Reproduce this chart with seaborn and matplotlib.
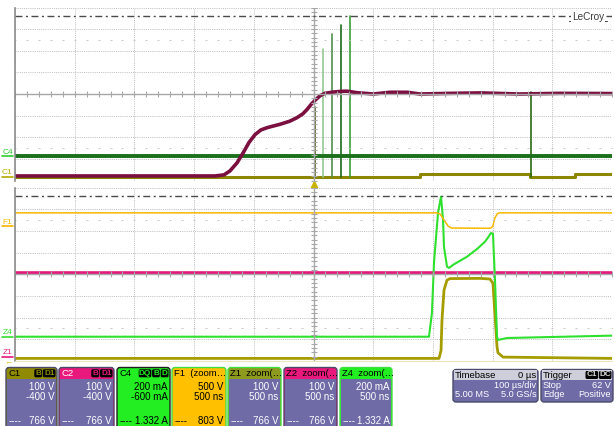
import numpy as np
import seaborn as sns
import matplotlib.pyplot as plt
from matplotlib.patches import FancyBboxPatch, Rectangle

# upper screen: time in us (100 us/div, trigger at 0), levels in divisions
c2_time = [-500, -165, -150, -140, -128, -118, -108, -98, -88, -78, -70, -56, -40,
           -28, -18, -11, -4, 3, 11, 19, 33, 45, 56, 73, 100, 128, 157, 178, 230,
           280, 346, 413, 500]
c2_level = [-3.79, -3.79, -3.74, -3.56, -3.18, -2.73, -2.24, -1.88, -1.66, -1.56,
            -1.50, -1.40, -1.26, -1.10, -0.92, -0.72, -0.48, -0.28, -0.08, 0.03,
            0.09, 0.12, 0.13, 0.06, 0.0, 0.08, 0.08, 0.0, 0.03, 0.05, 0.0, 0.03, 0.02]

c4_time = [-500, 500]
c4_level = [-2.88, -2.88]
c4_spike_time = [3, 16, 31, 46, 61, 364]
c4_spike_top = [-0.60, 2.08, 2.78, 3.19, 3.61, 0.09]

c1_time = [-500, 178, 178, 363, 363, 438, 438, 500]
c1_level = [-3.86, -3.86, -3.70, -3.70, -3.86, -3.86, -3.70, -3.70]

# lower screen: zoom traces, time in ns (500 ns/div)
f1_time = [0, 3530, 3560, 3600, 3630, 3660, 3980, 4000, 4020, 4040, 4060, 5000]
f1_level = [2.83, 2.83, 2.78, 2.45, 2.20, 2.13, 2.12, 2.20, 2.60, 2.80, 2.83, 2.83]

z2_time = [0, 5000]
z2_level = [0.07, 0.07]

z4_time = [0, 3467, 3492, 3509, 3543, 3568, 3585, 3593, 3618, 3635, 3668, 3720,
           3786, 3830, 3869, 3936, 3960, 3986, 4003, 4020, 4037, 4045, 4121, 5000]
z4_level = [-2.88, -2.88, -1.79, 0.52, 2.83, 3.58, 2.50, 1.26, 0.35, 0.29, 0.43,
            0.60, 0.81, 1.00, 1.16, 1.50, 1.68, 1.90, 1.87, -0.27, -2.88, -3.03,
            -2.94, -2.83]

z1_time = [0, 3551, 3568, 3576, 3593, 3618, 3643, 3900, 3978, 4003, 4020, 4037,
           4045, 4087, 5000]
z1_level = [-3.88, -3.88, -3.52, -2.11, -0.73, -0.27, -0.20, -0.19, -0.22, -0.42,
            -1.88, -3.34, -3.62, -3.82, -3.88]

# channel descriptor boxes
box_title = ["C1", "C2", "C4", "F1  (zoom…", "Z1  zoom(…", "Z2  zoom(…", "Z4  zoom(…"]
box_scale = ["100 V", "100 V", "200 mA", "500 V", "100 V", "100 V", "200 mA"]
box_second = ["-400 V", "-400 V", "-600 mA", "500 ns", "500 ns", "500 ns", "500 ns"]
box_reading = ["766 V", "766 V", "1.332 A", "803 V", "766 V", "766 V", "1.332 A"]
box_badges = [["B", "D1"], ["B", "D1"], ["DQ", "B", "D"], [], [], [], []]

sns.set_style("white")
plt.rcParams['font.family'] = ['Liberation Sans', 'DejaVu Sans']

W, H = 614, 426
fig = plt.figure(figsize=(W / 100, H / 100), dpi=100)


def frame(left, top, right, bottom):
    return [left / W, 1 - bottom / H, (right - left) / W, (bottom - top) / H]


def screen(ax, x0, x1):
    ax.set_xticks(np.linspace(x0, x1, 11))
    ax.set_yticks(range(-4, 5))
    ax.tick_params(length=0, labelbottom=False, labelleft=False)
    ax.grid(True, color='#bdbdbd', ls=(0, (1, 1.2)), lw=0.7)
    mid = (x0 + x1) / 2
    ax.axhline(0, color='#a8a8a8', lw=1)
    ax.axvline(mid, color='#a8a8a8', lw=1)
    xs = np.linspace(x0, x1, 51)
    ax.plot(xs, np.zeros_like(xs), ls='none', marker='|', ms=4, mew=0.8, color='#a8a8a8')
    ys = np.linspace(-4, 4, 41)
    ax.plot(np.full_like(ys, mid), ys, ls='none', marker='_', ms=4, mew=0.8, color='#a8a8a8')
    for r in (2.5, -2.5):
        ax.plot(xs, np.full_like(xs, r), ls='none', marker='_', ms=1.8, mew=0.7, color='#c8c8c8')
    ax.axhline(3.63, color='#4a4a4a', lw=1, dashes=(5, 2.5, 1.5, 2.5))
    ax.set_xlim(x0, x1)
    ax.set_ylim(-4, 4)
    ax.set_xlabel('')
    ax.set_ylabel('')
    sns.despine(ax=ax, left=False, bottom=True)
    ax.spines['left'].set_color('#8c8c8c')
    ax.spines['left'].set_linewidth(1.2)


def trace(ax, t, v, color, lw, alpha=1.0):
    sns.lineplot(x=t, y=v, ax=ax, color=color, lw=lw, sort=False,
                 estimator=None, alpha=alpha)


top = fig.add_axes(frame(15, 7.5, 612, 180.5))
bot = fig.add_axes(frame(15, 187.5, 612, 361))

# upper traces
trace(top, c1_time, c1_level, '#8c8600', 2.2)
spike_colors = ['#4f5a10', '#93c893', '#4f8f4f', '#1f6a1f', '#3aa03a', '#2a6a10']
for t, peak, col in zip(c4_spike_time, c4_spike_top, spike_colors):
    trace(top, [t, t], [c1_level[0], peak], col, 1.2)
trace(top, c4_time, c4_level, '#1c701c', 2.8)
trace(top, c2_time, c2_level, '#7a0f40', 2.6)
top.plot([0], [-4.22], marker='^', ms=6, color='#c8b400', clip_on=False)
screen(top, -500, 500)

# lower traces
trace(bot, z2_time, z2_level, '#e3197c', 2.6)
trace(bot, z1_time, z1_level, '#a59d00', 2.0)
trace(bot, z4_time, z4_level, '#2fe02f', 1.5)
trace(bot, f1_time, f1_level, '#f7b800', 1.1)
screen(bot, 0, 5000)
bot.spines['bottom'].set_visible(True)
bot.spines['bottom'].set_color('#ece4b8')

# overlay in pixel units for labels and descriptor boxes
ov = fig.add_axes([0, 0, 1, 1])
ov.set_xlim(0, W)
ov.set_ylim(H, 0)
ov.axis('off')

ov.text(588, 16.5, 'LeCroy', ha='center', va='center', fontsize=7.2, color='#3c3c3c',
        bbox=dict(fc='white', ec='none', pad=0.6))
ov.plot([569, 607], [21, 21], color='#3c3c3c', lw=0.7)

side = [('C4', 152, '#2ecc2e'), ('C1', 172.5, '#b4aa00'), ('F1', 222, '#f5b400'),
        ('Z4', 333, '#33dd33'), ('Z1', 353, '#e8187c')]
for name, y, col in side:
    ov.text(7.5, y, name, ha='center', va='center', fontsize=6, color=col)
    ov.plot([2, 13], [y + 4.2, y + 4.2], color=col, lw=1.2)
ov.text(8, 362.5, '←', ha='center', va='center', fontsize=6, color='#e0c000')

box_left = [6, 59, 117, 172, 228, 284, 340]
box_right = [57, 114, 170, 226, 281, 337, 392]
head_col = ['#8f8a00', '#e8187c', '#22ee22', '#ffc000', '#8e9a1e', '#e8187c', '#22ee22']
body_col = ['#6f6ba7', '#6f6ba7', '#22ee22', '#ffc000', '#6f6ba7', '#6f6ba7', '#6f6ba7']
edge_col = ['#4a4a6a', '#4a4a6a', '#202020', '#44dd44', '#44dd44', '#4a4a6a', '#44dd44']
head_ink = ['black', 'white', 'black', 'black', 'black', 'black', 'black']
body_ink = ['white', 'white', 'black', 'black', 'white', 'white', 'white']

for i in range(len(box_title)):
    x0, x1 = box_left[i], box_right[i]
    ov.add_patch(FancyBboxPatch((x0, 367.5), x1 - x0, 70,
                                boxstyle='round,pad=0,rounding_size=3',
                                fc=head_col[i], ec=edge_col[i], lw=1))
    ov.add_patch(Rectangle((x0 + 0.8, 378.5), x1 - x0 - 1.6, 60, fc=body_col[i], ec='none'))
    title = ov.text(x0 + 2.5, 373, box_title[i], ha='left', va='center', fontsize=6.8,
                    color=head_ink[i])
    title.set_clip_path(Rectangle((x0, 367), x1 - x0 - 1, 12, transform=ov.transData))
    xb = x1 - 1.5
    for b in reversed(box_badges[i]):
        w = 3 + 4.8 * len(b)
        ov.add_patch(FancyBboxPatch((xb - w, 369.3), w, 8,
                                    boxstyle='round,pad=0,rounding_size=1.5',
                                    fc='black', ec='none'))
        ov.text(xb - w / 2, 373.4, b, ha='center', va='center', fontsize=5.9,
                color=head_col[i], fontweight='bold')
        xb -= w + 0.8
    ov.text(x1 - 2.5, 387, box_scale[i], ha='right', va='center', fontsize=7, color=body_ink[i])
    ov.text(x1 - 2.5, 397.5, box_second[i], ha='right', va='center', fontsize=7, color=body_ink[i])
    ov.text(x0 + 2.5, 421, '----', ha='left', va='center', fontsize=7, color=body_ink[i])
    ov.text(x1 - 2.5, 421, box_reading[i], ha='right', va='center', fontsize=7, color=body_ink[i])

# timebase and trigger boxes
for x0, x1 in [(453, 538), (541, 613)]:
    ov.add_patch(FancyBboxPatch((x0, 369.5), x1 - x0, 32.5,
                                boxstyle='round,pad=0,rounding_size=3',
                                fc='#6f6ba7', ec='#4a4a6a', lw=1))
    ov.add_patch(Rectangle((x0 + 0.8, 370.3), x1 - x0 - 1.6, 9.5, fc='#cfcfdc', ec='none'))

ov.text(455, 375, 'Timebase', ha='left', va='center', fontsize=6.8, color='black')
ov.text(536.5, 375, '0 µs', ha='right', va='center', fontsize=6.8, color='black')
ov.text(536.5, 386, '100 µs/div', ha='right', va='center', fontsize=6.6, color='white')
ov.text(455, 394.5, '5.00 MS', ha='left', va='center', fontsize=6.6, color='white')
ov.text(536.5, 394.5, '5.0 GS/s', ha='right', va='center', fontsize=6.6, color='white')

ov.text(543, 375, 'Trigger', ha='left', va='center', fontsize=6.8, color='black')
xb = 611.5
for b in ['DC', 'C1']:
    w = 3 + 4.8 * len(b)
    ov.add_patch(FancyBboxPatch((xb - w, 371), w, 8, boxstyle='round,pad=0,rounding_size=1.5',
                                fc='black', ec='none'))
    ov.text(xb - w / 2, 375, b, ha='center', va='center', fontsize=5.9,
            color='#d8d8d8', fontweight='bold')
    xb -= w + 0.8
ov.text(543, 386, 'Stop', ha='left', va='center', fontsize=6.6, color='white')
ov.text(611, 386, '62 V', ha='right', va='center', fontsize=6.6, color='white')
ov.text(543, 394.5, 'Edge', ha='left', va='center', fontsize=6.6, color='white')
ov.text(611, 394.5, 'Positive', ha='right', va='center', fontsize=6.6, color='white')

fig.savefig('out.png', dpi=100)
